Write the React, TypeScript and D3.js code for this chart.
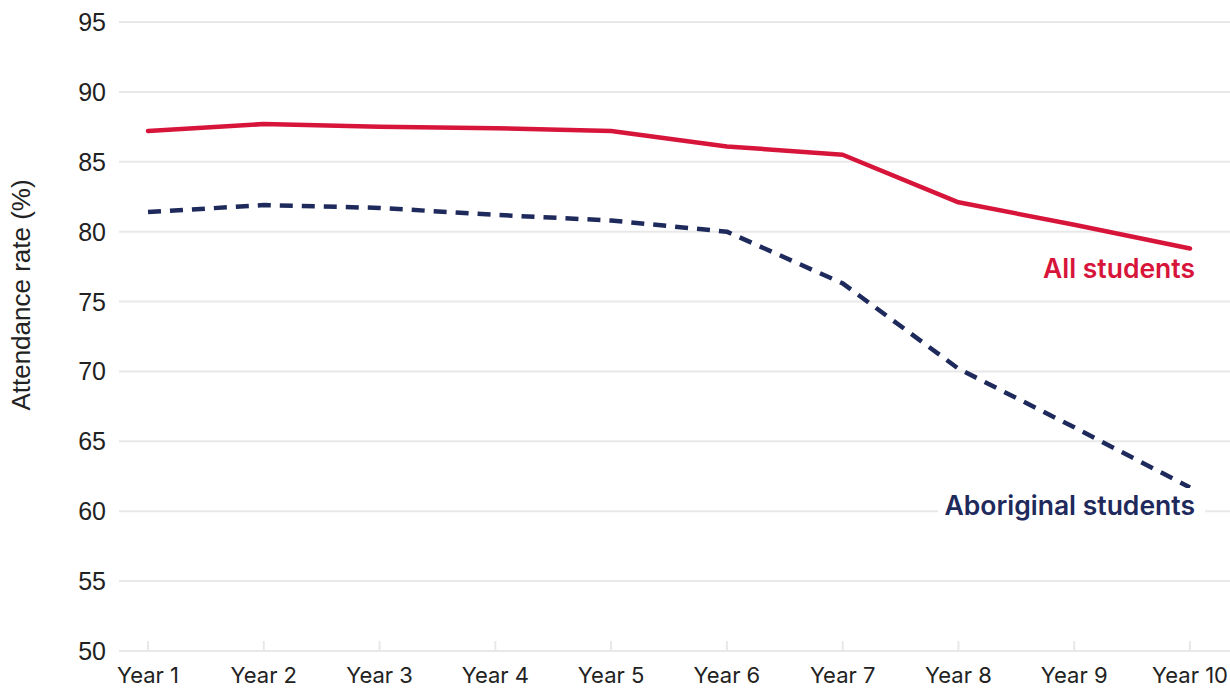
import React from "react";
import * as d3 from "d3";

const years = ["Year 1","Year 2","Year 3","Year 4","Year 5","Year 6","Year 7","Year 8","Year 9","Year 10"];
const allStudents = [87.2, 87.7, 87.5, 87.4, 87.2, 86.1, 85.5, 82.1, 80.5, 78.8];
const aboriginalStudents = [81.4, 81.9, 81.7, 81.2, 80.8, 80.0, 76.3, 70.2, 66.0, 61.7];
const yTicks = [50, 55, 60, 65, 70, 75, 80, 85, 90, 95];

const W = 1230, H = 689;
const RED = "#d7153a";
const NAVY = "#1f2a5c";

export default function App() {
  const x = d3.scalePoint<string>().domain(years).range([148, 1190]);
  const y = d3.scaleLinear().domain([50, 95]).range([651, 22]);
  const line = d3.line<number>().x((_, i) => x(years[i]) as number).y((v) => y(v));
  return (
    <svg width={W} height={H} style={{ position: "absolute", left: 0, top: 0, background: "#fff" }}>
      {yTicks.map((t) => (
        <g key={t}>
          <line x1={119} x2={W} y1={y(t)} y2={y(t)} stroke="#e8e8e8" strokeWidth={2} />
          <text x={106} y={y(t)} dy="0.36em" textAnchor="end" fontFamily="Liberation Sans, Arial, sans-serif" fontSize={25} fill="#222">{t}</text>
        </g>
      ))}
      {years.map((yr) => (
        <g key={yr}>
          <line x1={x(yr)} x2={x(yr)} y1={641} y2={651} stroke="#e8e8e8" strokeWidth={2} />
          <text x={x(yr)} y={683} textAnchor="middle" fontFamily="Inter, sans-serif" fontSize={22} fill="#222">{yr}</text>
        </g>
      ))}
      <text transform={`translate(30, 295) rotate(-90)`} textAnchor="middle" fontFamily="Liberation Sans, Arial, sans-serif" fontSize={26} fill="#222">Attendance rate (%)</text>
      <path d={line(allStudents) || ""} fill="none" stroke={RED} strokeWidth={4.5} strokeLinecap="round" strokeLinejoin="round" />
      <path d={line(aboriginalStudents) || ""} fill="none" stroke={NAVY} strokeWidth={4.5} strokeDasharray="13 9" strokeLinejoin="round" />
      <text x={1195} y={278} textAnchor="end" fontFamily="Inter, sans-serif" fontWeight={600} fontSize={26.5} fill={RED}>All students</text>
      <rect x={938} y={488} width={267} height={38} fill="#fff" />
      <text x={1195} y={515} textAnchor="end" fontFamily="Inter, sans-serif" fontWeight={600} fontSize={26.5} fill={NAVY}>Aboriginal students</text>
    </svg>
  );
}
